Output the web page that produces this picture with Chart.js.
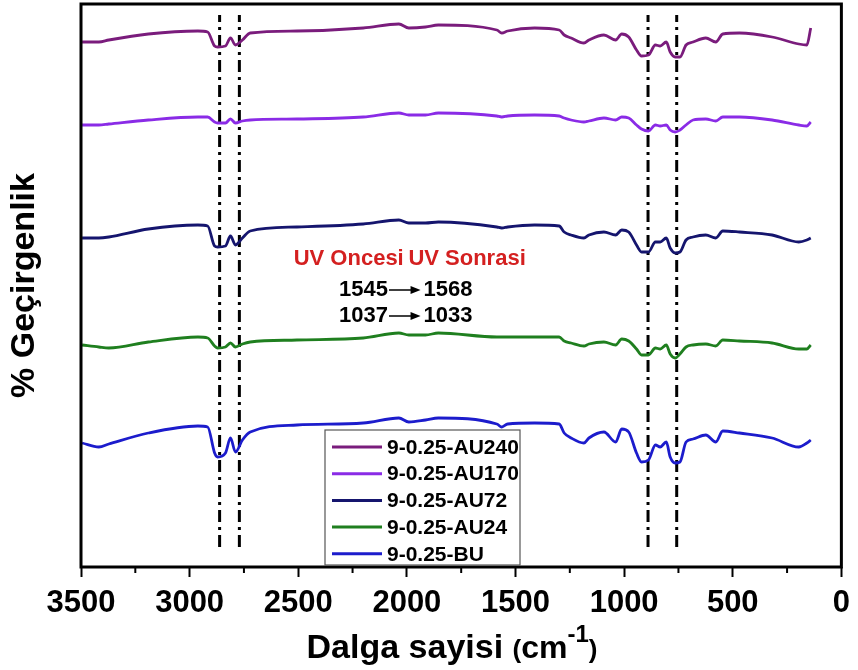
<!DOCTYPE html>
<html>
<head>
<meta charset="utf-8">
<script src="https://cdn.jsdelivr.net/npm/chart.js@4.4.1/dist/chart.umd.min.js"></script>
<style>
html, body { margin: 0; padding: 0; background: #fff; }
</style>
</head>
<body>
<canvas id="myChart" width="858" height="670"></canvas>
<script>
const FONT = "'Liberation Sans', Arial, sans-serif"

// wavenumbers (cm-1), shared by all spectra
const wavenumbers = [3495, 3418, 3372, 3190, 2962, 2917, 2885, 2871, 2835, 2812,
    2789, 2757, 2721, 2506, 2201, 2037, 1991, 1914, 1855, 1586,
    1563, 1536, 1412, 1299, 1276, 1244, 1185, 1162, 1093, 1039,
    1011, 979, 943, 920, 888, 856, 834, 806, 788, 765,
    743, 715, 683, 624, 578, 546, 469, 319, 196, 159, 141]

// % transmittance (offset, arbitrary units)
const au240 = [525, 525, 527, 533, 536, 535, 521, 520, 521, 529,
    522, 527, 534, 536, 539, 543, 539, 540, 542, 537,
    534, 536, 539, 537, 532, 529, 524, 527, 532, 527,
    533, 530, 517, 511, 512, 522, 521, 525, 515, 510,
    510, 522, 525, 529, 525, 533, 534, 530, 523, 522, 539]
const au170 = [442, 442, 443, 447, 450, 450, 445, 444, 444, 448,
    444, 446, 447, 448, 450, 454, 452, 452, 454, 451,
    450, 451, 452, 451, 449, 447, 445, 446, 449, 447,
    450, 449, 442, 438, 436, 442, 441, 442, 437, 435,
    437, 442, 447, 448, 446, 450, 450, 447, 442, 441, 445]
const au72 = [329, 329, 330, 338, 342, 341, 321, 320, 321, 331,
    322, 329, 336, 340, 343, 347, 344, 344, 345, 340,
    339, 340, 342, 341, 335, 332, 329, 332, 335, 332,
    337, 335, 322, 315, 315, 325, 325, 329, 319, 314,
    315, 327, 330, 332, 329, 336, 335, 332, 325, 327, 329]
const au24 = [222, 220, 219, 225, 230, 229, 221, 219, 220, 224,
    220, 223, 225, 227, 229, 234, 232, 232, 234, 230,
    230, 230, 230, 230, 226, 224, 221, 223, 225, 222,
    228, 226, 218, 212, 212, 219, 218, 222, 213, 209,
    213, 220, 222, 223, 221, 227, 226, 224, 218, 218, 222]
const bu = [124, 120, 123, 134, 141, 140, 114, 110, 114, 129,
    115, 127, 135, 142, 144, 149, 145, 147, 149, 143,
    140, 143, 144, 143, 134, 129, 124, 129, 135, 125,
    138, 135, 114, 105, 107, 122, 120, 125, 110, 104,
    105, 125, 128, 132, 125, 136, 134, 129, 120, 124, 127]

const seriesNames = ["9-0.25-AU240", "9-0.25-AU170", "9-0.25-AU72", "9-0.25-AU24", "9-0.25-BU"]
const seriesColors = ["#7a1c7c", "#8a2be6", "#15156e", "#1f7f1f", "#1c1ccc"]

// dash-dot marker positions (cm-1)
const markerLines = [2862, 2771, 890, 758]

// peak shift note
const noteHeaders = ["UV Oncesi", "UV Sonrasi"]
const shiftBefore = ["1545", "1037"]
const shiftAfter = ["1568", "1033"]

function toPoints(values) {
    return wavenumbers.map((w, i) => ({ x: w, y: values[i] }))
}

var datasets = [au240, au170, au72, au24, bu].map((vals, i) => ({
    label: seriesNames[i],
    data: toPoints(vals),
    borderColor: seriesColors[i],
    borderWidth: 2.8,
    pointRadius: 0,
    cubicInterpolationMode: "monotone",
    fill: false
}))

markerLines.forEach(w => {
    datasets.push({
        label: "",
        data: [{ x: w, y: 20 }, { x: w, y: 552 }],
        borderColor: "#000",
        borderWidth: 3,
        borderDash: [12, 5, 3, 5],
        pointRadius: 0,
        fill: false
    })
})

const extras = {
    id: "extras",
    afterDatasetsDraw(chart) {
        const ctx = chart.ctx
        const a = chart.chartArea
        const xs = chart.scales.x
        const ys = chart.scales.y
        ctx.save()

        // frame
        ctx.strokeStyle = "#000"
        ctx.lineWidth = 3
        ctx.strokeRect(a.left, a.top, a.right - a.left, a.bottom - a.top)

        // minor ticks
        ctx.lineWidth = 2
        for (let w = 250; w < 3500; w += 500) {
            const px = xs.getPixelForValue(w)
            ctx.beginPath()
            ctx.moveTo(px, a.bottom)
            ctx.lineTo(px, a.bottom + 6)
            ctx.stroke()
        }

        // note text
        ctx.textBaseline = "middle"
        ctx.fillStyle = "#d42020"
        ctx.textAlign = "left"
        ctx.font = "bold 22px " + FONT
        ctx.fillText(noteHeaders[0], xs.getPixelForValue(2521), ys.getPixelForValue(308))
        ctx.fillText(noteHeaders[1], xs.getPixelForValue(1993), ys.getPixelForValue(308))
        ctx.fillStyle = "#000"
        ctx.font = "bold 22px " + FONT
        for (let i = 0; i < shiftBefore.length; i++) {
            const py = ys.getPixelForValue(i == 0 ? 277 : 251)
            const x1 = xs.getPixelForValue(2087)
            const x2 = xs.getPixelForValue(1937)
            ctx.textAlign = "right"
            ctx.fillText(shiftBefore[i], x1, py)
            ctx.textAlign = "left"
            ctx.fillText(shiftAfter[i], x2 + 3, py)
            ctx.lineWidth = 1.5
            ctx.beginPath()
            ctx.moveTo(x1 + 1, py)
            ctx.lineTo(x2 - 8, py)
            ctx.stroke()
            ctx.beginPath()
            ctx.moveTo(x2, py)
            ctx.lineTo(x2 - 10, py - 4)
            ctx.lineTo(x2 - 10, py + 4)
            ctx.closePath()
            ctx.fill()
        }

        // legend
        ctx.strokeStyle = "#555"
        ctx.lineWidth = 1.2
        ctx.strokeRect(325, 430, 195, 135)
        ctx.font = "bold 21px " + FONT
        ctx.textAlign = "left"
        for (let i = 0; i < seriesNames.length; i++) {
            const py = 447 + i * 26.7
            ctx.strokeStyle = seriesColors[i]
            ctx.lineWidth = 3
            ctx.beginPath()
            ctx.moveTo(332, py)
            ctx.lineTo(382, py)
            ctx.stroke()
            ctx.fillStyle = "#000"
            ctx.fillText(seriesNames[i], 387, py + 1)
        }

        // x title with superscript
        ctx.textBaseline = "alphabetic"
        const parts = [
            ["Dalga sayisi ", 34, 0],
            ["(", 26, 0],
            ["cm", 32, 0],
            ["-1", 24, -16],
            [")", 26, 0]
        ]
        let total = 0
        parts.forEach(p => { ctx.font = "bold " + p[1] + "px " + FONT; total += ctx.measureText(p[0]).width })
        let cx = 452 - total / 2
        parts.forEach(p => {
            ctx.font = "bold " + p[1] + "px " + FONT
            ctx.fillText(p[0], cx, 658 + p[2])
            cx += ctx.measureText(p[0]).width
        })
        ctx.restore()
    }
}

var chart = new Chart(document.getElementById("myChart").getContext("2d"), {
    type: "line",
    data: { datasets: datasets },
    options: {
        responsive: false,
        animation: false,
        layout: { padding: { top: 4, right: 8, left: 0, bottom: 0 } },
        plugins: { legend: { display: false }, tooltip: { enabled: false } },
        scales: {
            x: {
                type: "linear",
                reverse: true,
                min: 0,
                max: 3500,
                ticks: {
                    stepSize: 500,
                    color: "#000",
                    padding: 8,
                    maxRotation: 0,
                    autoSkip: false,
                    font: { family: FONT, size: 31, weight: "bold" },
                    callback: v => String(v)
                },
                grid: { drawOnChartArea: false, drawTicks: true, tickLength: 10, tickWidth: 2, tickColor: "#000" },
                border: { display: false },
                afterFit(s) { s.height = 103 }
            },
            y: {
                min: 0,
                max: 563,
                ticks: { display: false },
                grid: { display: false, drawTicks: false },
                border: { display: false },
                title: {
                    display: true,
                    text: "% Geçirgenlik",
                    color: "#000",
                    font: { family: FONT, size: 34, weight: "bold" },
                    padding: { top: 4, bottom: 0 }
                },
                afterFit(s) { s.width = 81 }
            }
        }
    },
    plugins: [extras]
})
</script>
</body>
</html>
